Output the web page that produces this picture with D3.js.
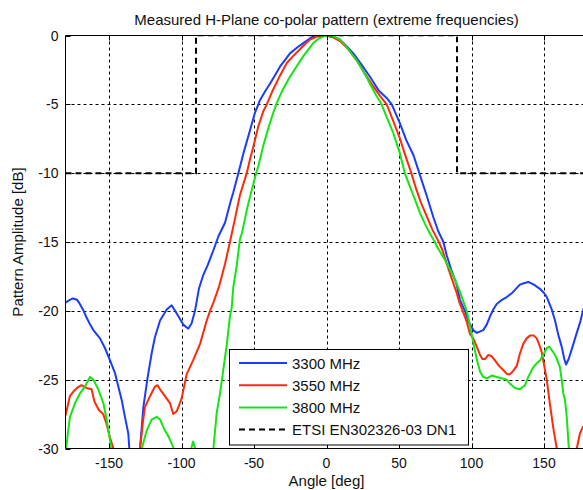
<!DOCTYPE html>
<html><head><meta charset="utf-8">
<script src="https://cdn.jsdelivr.net/npm/d3@7/dist/d3.min.js"></script>
<style>
body{margin:0;background:#fff;overflow:hidden}
text{font-family:"Liberation Sans",Arial,Helvetica,sans-serif;fill:#111}
</style>
</head><body>
<svg id="chart" width="583" height="490"></svg>
<script>
// ---------- data ----------
const titleText = "Measured H-Plane co-polar pattern (extreme frequencies)";
const xLabel = "Angle [deg]";
const yLabel = "Pattern Amplitude [dB]";
const xTicks = [-150, -100, -50, 0, 50, 100, 150];
const yTicks = [0, -5, -10, -15, -20, -25, -30];
const seriesNames = ["3300 MHz", "3550 MHz", "3800 MHz"];
const maskName = "ETSI EN302326-03 DN1";

const angles3300 = [-180,-177,-175,-172,-170.7,-168,-165.4,-163,-160.8,-156.2,-152.8,-149.3,-145.9,-143.6,-141.2,-139,-136.7,-136,-134,-131,-128.6,-126.3,-123.6,-120.6,-118.3,-114.8,-110.2,-106.8,-103.3,-98.8,-95.3,-93,-90.7,-88,-85,-82,-78,-74.6,-70,-66,-64.3,-60.8,-57.4,-52.8,-49.3,-47,-45.9,-42,-39,-35,-32,-28,-25.2,-20,-16,-12,-9.1,-5,-2,2,6,9.3,14,18.5,24,30,36,42,45,50.7,55,60,64,69,73.7,77,80.6,83,86,89.8,92,95.5,98,101.2,103.6,108.1,110.5,112.8,115,117.4,121,124.3,128,133.4,136,139.2,143,147.2,150,151.9,155,157.6,160,162.2,164,165.2,167,169.1,172.6,175,177.1,180];
const db3300 = [-19.4,-19.2,-19.1,-19.2,-19.4,-19.9,-20.5,-21.0,-21.4,-22.0,-22.7,-23.6,-24.5,-25.5,-26.5,-27.7,-28.9,-30.0,-31.5,-31.5,-30.0,-27.0,-25.0,-23.1,-21.9,-20.7,-19.9,-19.6,-20.2,-21.0,-21.3,-20.9,-20.0,-18.4,-17.4,-16.7,-15.6,-14.6,-13.6,-12.0,-11.4,-10.0,-8.6,-6.9,-5.6,-5.0,-4.7,-4.0,-3.5,-2.8,-2.25,-1.7,-1.3,-0.85,-0.55,-0.25,-0.08,0,0,-0.05,-0.15,-0.3,-0.8,-1.3,-2.1,-3.0,-4.0,-4.6,-5.0,-6.4,-7.6,-8.7,-10.0,-11.6,-13.2,-14.2,-15.0,-16.0,-17.0,-18.1,-19.2,-20.0,-20.8,-21.4,-21.6,-21.4,-21.0,-20.4,-19.9,-19.5,-19.2,-19.0,-18.7,-18.1,-18.0,-17.9,-18.1,-18.4,-18.7,-19.0,-19.8,-20.7,-21.8,-22.6,-23.5,-23.9,-23.5,-22.8,-21.6,-20.8,-19.9,-19.3];

const angles3550 = [-180,-177,-174,-172,-169,-165.5,-162,-160,-157,-154,-152,-149.3,-147,-144,-138,-132,-128.6,-126.5,-125.2,-121.7,-118.3,-116.5,-114.8,-111.4,-108,-105.7,-103.3,-100,-96.4,-92,-87.2,-82.6,-80.3,-78,-74,-70,-66.6,-63.1,-59.7,-55,-52.8,-50.5,-47,-43.6,-41.2,-36.7,-32,-27.4,-23,-18.3,-14,-11.4,-7,-3,0,4,9.3,15,20.8,26,32.3,37,41.5,46,50.7,54,58.5,62,65,69,73,77,80,83,86.5,89.8,92,94.3,96.7,99,101.2,103.6,105.9,107.5,109.3,111.6,113.9,116.2,119,121.9,124.5,126.6,128.5,131.2,133.4,135.7,138,140.3,143,145,147.2,148.4,150,151.9,154.1,156.4,158.8,162,170,172.6,174.8,177,180];
const db3550 = [-27.6,-26.2,-25.8,-25.6,-25.4,-25.6,-25.7,-26.6,-27.2,-27.5,-28.1,-29.2,-30.0,-31.5,-33,-32,-30.0,-28.0,-27.0,-26.2,-25.5,-25.4,-25.7,-26.2,-26.7,-27.5,-27.3,-26.4,-24.6,-23.6,-22.4,-20.7,-20.0,-19.4,-18.2,-16.6,-15.0,-13.3,-11.6,-10.0,-9.0,-8.1,-6.6,-5.5,-5.0,-3.9,-2.9,-2.0,-1.5,-1.0,-0.55,-0.3,-0.1,0,0,-0.1,-0.4,-1.0,-1.8,-2.7,-3.7,-4.4,-5.0,-6.2,-7.5,-8.6,-10.0,-11.2,-12.1,-13.1,-14.1,-14.9,-15.6,-16.6,-17.7,-18.7,-19.5,-20.1,-20.8,-21.7,-22.0,-22.6,-23.2,-23.5,-23.5,-23.2,-23.3,-23.6,-24.0,-24.3,-24.6,-24.6,-24.4,-24.0,-23.1,-22.4,-22.0,-21.8,-21.8,-22.0,-22.6,-23.0,-23.9,-25.0,-26.8,-28.5,-30.0,-32,-32,-30.0,-28.9,-28.4,-28.2];

const angles3800 = [-180,-178.5,-176.9,-173.4,-170,-166.6,-163.1,-160.8,-157.4,-153.9,-151.6,-149.3,-148.6,-146,-140,-130,-127.4,-124,-120.6,-117.1,-114.8,-111.4,-109.1,-105.7,-104,-100,-94,-92,-90,-86,-80,-78,-75.7,-73.4,-71.2,-68.8,-66.6,-65.4,-64.3,-61.9,-59.7,-58.5,-57.4,-55,-52.5,-50.5,-48.5,-47,-43.6,-40,-37,-34.3,-30,-25.2,-21,-16,-12,-9.1,-5,-1,2,5,9.3,15,20.8,25,30,34,38,41,46.1,50.7,54,57.6,61,64.5,68,71.4,74.8,76,80.6,85.2,88,92,96.7,99,101,103.6,105.9,108,110.5,114,117.4,120.8,124.3,126.6,130,133.4,136.9,139.2,142.6,145,147.2,150,151.9,153.5,156.4,158.5,161,162.2,163.3,164.5,165.7,166.8,168,180];
const db3800 = [-30.5,-29.0,-27.7,-26.7,-26.0,-25.5,-24.8,-25.0,-25.7,-26.7,-27.9,-29.4,-30.0,-31.5,-33,-32,-30.0,-28.7,-27.9,-27.7,-27.9,-28.7,-29.1,-29.9,-30.5,-31,-30.3,-29.5,-30.2,-31,-31,-30.0,-27.4,-26.0,-24.3,-22.5,-20.4,-19.8,-18.3,-16.7,-14.8,-14.4,-13.9,-12.7,-11.6,-10.8,-10.0,-9.5,-8.0,-6.7,-5.7,-4.9,-3.9,-3.0,-2.3,-1.5,-0.95,-0.55,-0.2,0,0,-0.05,-0.3,-1.0,-1.8,-2.5,-3.5,-4.3,-5.0,-5.8,-7.1,-8.6,-10.0,-11.0,-11.9,-12.9,-13.7,-14.4,-15.0,-15.3,-16.1,-17.0,-17.6,-18.6,-20.0,-21.1,-22.2,-23.5,-24.4,-24.8,-24.9,-24.7,-24.8,-24.9,-25.0,-25.3,-25.6,-25.7,-25.4,-24.8,-24.1,-23.8,-23.6,-23.1,-22.7,-22.6,-23.0,-23.4,-24.1,-25.0,-26.0,-26.5,-27.7,-29.5,-31,-31];

const maskAngles = [-180, -90, -90, 90, 90, 180];
const maskDb = [-10, -10, 0, 0, -10, -10];

const seriesColors = ["#1a3cff", "#ff2a0a", "#14e614"];

// ---------- layout ----------
const W = 583, H = 490;
const svg = d3.select("#chart");
svg.append("rect").attr("width", W).attr("height", H).attr("fill", "#fff");

const x = d3.scaleLinear().domain([-180, 180]).range([65.5, 587.5]);
const y = d3.scaleLinear().domain([-30, 0]).range([448.5, 35.5]);
const px = v => Math.round(x(v)) + 0.5;
const py = v => Math.round(y(v)) + 0.5;

const defs = svg.append("defs");
defs.append("clipPath").attr("id", "plotclip")
  .append("rect").attr("x", x(-180)).attr("y", y(0)).attr("width", x(180) - x(-180)).attr("height", y(-30) - y(0));
defs.append("clipPath").attr("id", "maskclip")
  .append("rect").attr("x", x(-180)).attr("y", y(0) + 1).attr("width", x(180) - x(-180)).attr("height", y(-30) - y(0) - 1);

// grid
const grid = svg.append("g");
grid.selectAll(".gx").data(xTicks).enter().append("line")
  .attr("x1", d => px(d)).attr("x2", d => px(d))
  .attr("y1", y(0)).attr("y2", y(-30))
  .attr("stroke", "#000").attr("stroke-width", 1).attr("stroke-dasharray", "3,3");
grid.selectAll(".gy").data(yTicks.filter(t => t !== 0 && t !== -30)).enter().append("line")
  .attr("x1", x(-180)).attr("x2", x(180))
  .attr("y1", d => py(d)).attr("y2", d => py(d))
  .attr("stroke", "#000").attr("stroke-width", 1).attr("stroke-dasharray", "3,3");

// curves
const plot = svg.append("g").attr("clip-path", "url(#plotclip)");
const line = d3.line().x(d => x(d[0])).y(d => y(d[1]));
const seriesData = [
  d3.zip(angles3300, db3300),
  d3.zip(angles3550, db3550),
  d3.zip(angles3800, db3800)
];
seriesData.forEach((s, i) => {
  plot.append("path").datum(s).attr("d", line)
    .attr("fill", "none").attr("stroke", seriesColors[i]).attr("stroke-width", 2)
    .attr("stroke-linejoin", "round");
});
svg.append("g").attr("clip-path", "url(#maskclip)")
  .append("path").datum(d3.zip(maskAngles, maskDb)).attr("d", line)
  .attr("fill", "none").attr("stroke", "#000").attr("stroke-width", 2)
  .attr("stroke-dasharray", "6,4");

// axes box
const axes = svg.append("g");
axes.append("line").attr("x1", x(-180)).attr("x2", x(-180)).attr("y1", y(0)).attr("y2", y(-30)).attr("stroke", "#000");
axes.append("line").attr("x1", x(-180)).attr("x2", x(180)).attr("y1", y(0)).attr("y2", y(0)).attr("stroke", "#000");
axes.append("line").attr("x1", x(-180)).attr("x2", x(180)).attr("y1", y(-30)).attr("y2", y(-30)).attr("stroke", "#000");
axes.append("line").attr("x1", x(180)).attr("x2", x(180)).attr("y1", y(0)).attr("y2", y(-30)).attr("stroke", "#000");

// tick marks (inward)
xTicks.forEach(t => {
  axes.append("line").attr("x1", px(t)).attr("x2", px(t)).attr("y1", y(-30)).attr("y2", y(-30) - 5).attr("stroke", "#000");
  axes.append("line").attr("x1", px(t)).attr("x2", px(t)).attr("y1", y(0)).attr("y2", y(0) + 5).attr("stroke", "#000");
});
yTicks.forEach(t => {
  axes.append("line").attr("x1", x(-180)).attr("x2", x(-180) + 5).attr("y1", py(t)).attr("y2", py(t)).attr("stroke", "#000");
});

// tick labels
svg.append("g").selectAll("text").data(xTicks).enter().append("text")
  .attr("x", d => x(d)).attr("y", y(-30) + 19)
  .attr("text-anchor", "middle").attr("font-size", 14).text(d => d);
svg.append("g").selectAll("text").data(yTicks).enter().append("text")
  .attr("x", x(-180) - 7).attr("y", d => y(d) + 5)
  .attr("text-anchor", "end").attr("font-size", 14).text(d => d);

// title and axis labels
svg.append("text").attr("x", x(0)).attr("y", 25).attr("text-anchor", "middle")
  .attr("font-size", 15).text(titleText);
svg.append("text").attr("x", x(0)).attr("y", 486).attr("text-anchor", "middle")
  .attr("font-size", 15).text(xLabel);
svg.append("text").attr("transform", `translate(23,${(y(0) + y(-30)) / 2}) rotate(-90)`)
  .attr("text-anchor", "middle").attr("font-size", 15).text(yLabel);

// legend
const lg = svg.append("g");
const lx = 229.5, ly = 349.5, lw = 239, lh = 95.5;
lg.append("rect").attr("x", lx).attr("y", ly).attr("width", lw).attr("height", lh)
  .attr("fill", "#fff").attr("stroke", "#000").attr("stroke-width", 1);
const legendItems = seriesNames.map((n, i) => ({name: n, color: seriesColors[i], dash: null}))
  .concat([{name: maskName, color: "#000", dash: "6,4"}]);
legendItems.forEach((it, i) => {
  const cy = 363 + i * 22.2;
  const l = lg.append("line").attr("x1", 239).attr("x2", 287).attr("y1", cy).attr("y2", cy)
    .attr("stroke", it.color).attr("stroke-width", 2);
  if (it.dash) l.attr("stroke-dasharray", it.dash);
  lg.append("text").attr("x", 292).attr("y", cy + 5.5).attr("font-size", 15).text(it.name);
});
</script>
</body></html>
